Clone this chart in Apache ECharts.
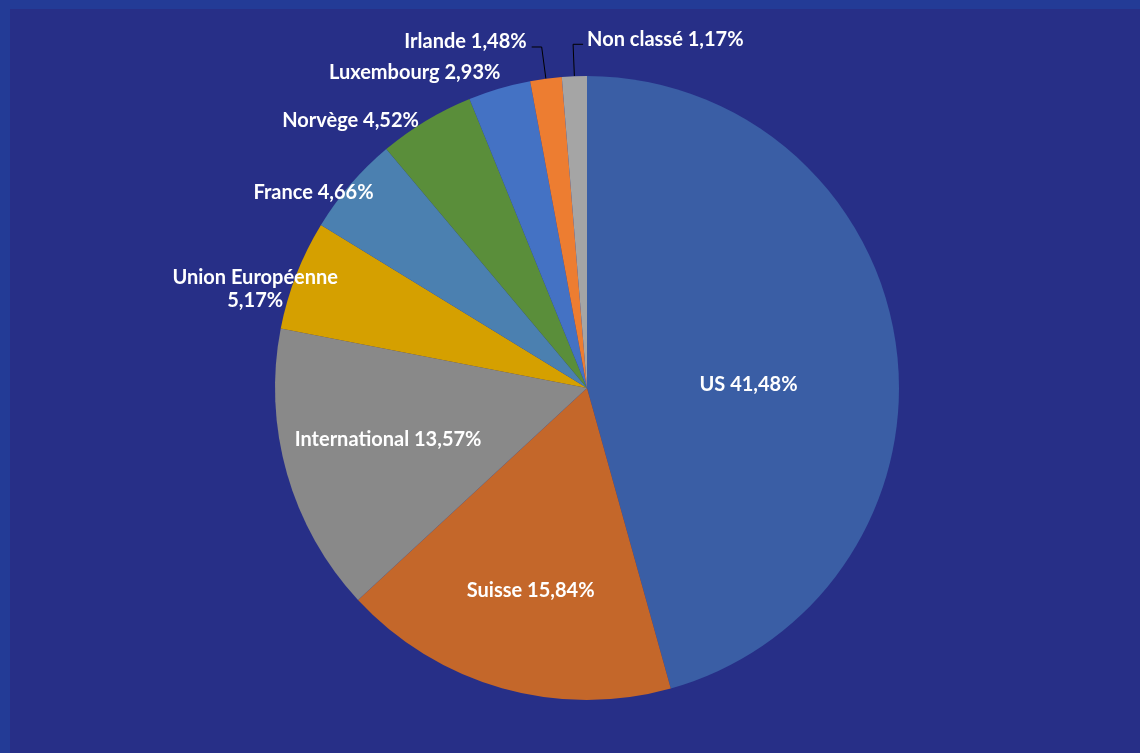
<!DOCTYPE html>
<html lang="fr">
<head>
    <meta charset="UTF-8">
    <script src="https://cdn.jsdelivr.net/npm/echarts@6/dist/echarts.min.js"></script>
    <title>Répartition</title>
    <style>
        html, body { margin: 0; padding: 0; background: #233B96; overflow: hidden; }
        #chart { position: absolute; left: 10px; top: 9px; width: 1130px; height: 744px; }
    </style>
</head>
<body>
<div id="chart"></div>

<script>
    // donnees (sens horaire depuis midi)
    var names = ['US', 'Suisse', 'International', 'Union Européenne', 'France', 'Norvège', 'Luxembourg', 'Irlande', 'Non classé'];
    var values = [41.48, 15.84, 13.57, 5.17, 4.66, 4.52, 2.93, 1.48, 1.17];
    var colors = ['#3A5EA5', '#C4672A', '#898989', '#D5A000', '#4B80B0', '#5A8E3A', '#4472C4', '#ED7D31', '#A5A5A5'];

    var insideNames = ['US', 'Suisse', 'International'];
    var lineNames = ['Irlande', 'Non classé'];

    // petits decalages des etiquettes
    var shift = {
        'US': [4, 18],
        'Suisse': [-13, 50],
        'International': [-46, 8],
        'Union Européenne': [-36, 14],
        'France': [28, 8],
        'Norvège': [-2, 0],
        'Luxembourg': [6, -16]
    };

    var chart = echarts.init(document.getElementById('chart'));

    var seriesData = names.map(function (n, i) {
        var item = {
            name: n,
            value: values[i],
            itemStyle: {color: colors[i]}
        };
        if (insideNames.indexOf(n) >= 0) {
            item.label = {position: 'inside'};
        } else if (lineNames.indexOf(n) >= 0) {
            item.labelLine = {show: true, length: 32, length2: 10};
        } else {
            item.labelLine = {show: false, length: 0, length2: 0};
        }
        return item;
    });

    chart.setOption({
        backgroundColor: '#272F87',
        animation: false,
        series: [{
            type: 'pie',
            center: [577, 379],
            radius: 312,
            startAngle: 90,
            clockwise: true,
            avoidLabelOverlap: false,
            data: seriesData,
            label: {
                show: true,
                color: '#FFFFFF',
                fontFamily: 'Lato',
                fontWeight: 'bold',
                fontSize: 20,
                lineHeight: 23,
                formatter: function (p) {
                    var sep = p.name === 'Union Européenne' ? '\n' : ' ';
                    return p.name + sep + p.value.toFixed(2).replace('.', ',') + '%';
                }
            },
            labelLine: {
                lineStyle: {color: '#000000', width: 1}
            },
            labelLayout: function (params) {
                var n = names[params.dataIndex];
                if (n === 'Non classé') {
                    var pts = params.labelLinePoints;
                    if (!pts) return {};
                    var elbow = pts[1];
                    var end = [elbow[0] + (elbow[0] - pts[2][0]), pts[2][1]];
                    return {
                        x: end[0] + 4,
                        y: end[1] - 5,
                        align: 'left',
                        verticalAlign: 'middle',
                        labelLinePoints: [pts[0], elbow, end]
                    };
                }
                if (n === 'Irlande') {
                    return {dy: -5};
                }
                if (n === 'Union Européenne') {
                    return {dx: shift[n][0], dy: shift[n][1], align: 'center'};
                }
                var s = shift[n];
                return s ? {dx: s[0], dy: s[1]} : {};
            }
        }]
    });
</script>
</body>
</html>
